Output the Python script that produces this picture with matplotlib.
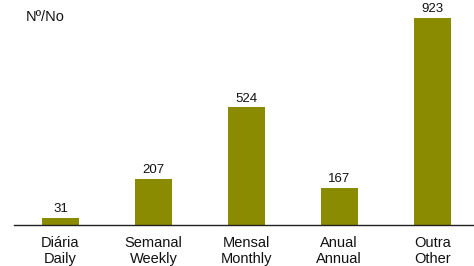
import matplotlib
matplotlib.use("Agg")
import matplotlib.pyplot as plt

plt.rcParams["font.family"] = ["Liberation Sans", "DejaVu Sans"]

categories = ["Diária\nDaily", "Semanal\nWeekly", "Mensal\nMonthly", "Anual\nAnnual", "Outra\nOther"]
values = [31, 207, 524, 167, 923]

bar_color = "#8B8B00"
text_color = "#111111"

fig = plt.figure(figsize=(4.74, 2.66), dpi=100)
ax = fig.add_axes([14 / 474, 41 / 266, 460 / 474, 225 / 266])

x = list(range(len(values)))
ax.bar(x, values, width=0.4, color=bar_color, zorder=2)

# value labels above bars
for xi, v in zip(x, values):
    ax.text(xi, v + 12, f"{v}", ha="center", va="bottom", fontsize=9.5, color=text_color)

ax.set_xlim(-0.5, 4.45)
ax.set_ylim(0, 1003)

ax.set_xticks(x)
ax.set_xticklabels(categories, fontsize=10.5, color=text_color, linespacing=1.15)
ax.tick_params(axis="x", length=0, pad=8)
ax.set_yticks([])

for side in ["top", "right", "left"]:
    ax.spines[side].set_visible(False)
ax.spines["bottom"].set_color("#222222")
ax.spines["bottom"].set_linewidth(1.0)

fig.text(26 / 474, 1 - 17 / 266, "Nº/No", fontsize=10.5, color=text_color, va="center", ha="left")

fig.savefig("out.png", dpi=100, facecolor="white")
